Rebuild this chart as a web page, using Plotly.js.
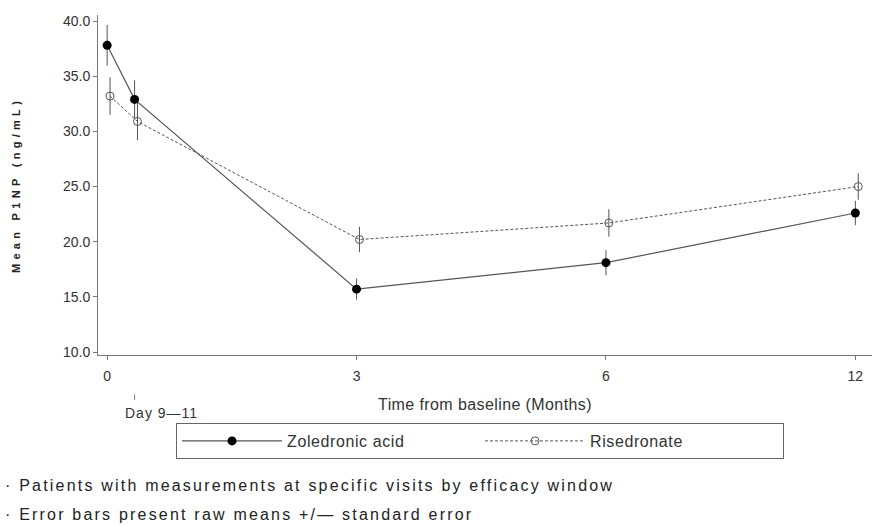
<!DOCTYPE html>
<html>
<head>
<meta charset="utf-8">
<script src="https://cdn.plot.ly/plotly-3.0.1.min.js"></script>
<style>html,body{margin:0;padding:0;background:#fff;}#chart{width:877px;height:526px;}</style>
</head>
<body>
<div id="chart"></div>
<script>
// Visit positions on the (compressed) time axis: 0, Day 9-11, 3, 6, 12 months
const visitPos = [0, 0.33, 3, 6, 9];
const tickPos = [0, 3, 6, 9];
const tickText = ['0', '3', '6', '12'];
const dayLabel = 'Day 9\u201411';
const dayPos = 0.33;

const zolMean = [37.8, 32.9, 15.7, 18.1, 22.6];
const zolSE   = [1.85, 1.75, 0.95, 1.15, 1.1];
const risMean = [33.2, 30.9, 20.2, 21.7, 25.0];
const risSE   = [1.7, 1.7, 1.15, 1.25, 1.2];
const risOffset = 0.035;

const grey = '#555';
const font = 'Liberation Sans, Arial, sans-serif';
const sp = (t, px) => '<span style="letter-spacing:' + px + 'px">' + t + '</span>';

const traces = [
  {
    x: visitPos, y: zolMean, name: sp('Zoledronic acid', 0.6), type: 'scatter', mode: 'lines+markers',
    line: {color: grey, width: 1.2},
    marker: {symbol: 'circle', size: 9, color: '#000'},
    error_y: {type: 'data', array: zolSE, visible: true, color: grey, thickness: 1, width: 0}
  },
  {
    x: visitPos.map(v => v + risOffset), y: risMean, name: sp('Risedronate', 0.6), type: 'scatter', mode: 'lines+markers',
    line: {color: grey, width: 1, dash: '3px,2px'},
    marker: {symbol: 'circle-open', size: 8, color: grey, line: {width: 1, color: grey}},
    error_y: {type: 'data', array: risSE, visible: true, color: grey, thickness: 1, width: 0}
  }
];

const layout = {
  width: 877, height: 526,
  margin: {l: 98, r: 5, t: 15, b: 171},
  paper_bgcolor: '#fff', plot_bgcolor: '#fff',
  font: {family: font, color: '#333', size: 14},
  showlegend: true,
  legend: {
    orientation: 'h', x: 0.1008, xanchor: 'left', y: -0.2, yanchor: 'top',
    bordercolor: '#666', borderwidth: 1, bgcolor: '#fff',
    itemwidth: 100, entrywidth: 188, font: {size: 16, family: font, color: '#333'}
  },
  xaxis: {
    range: [-0.11, 9.2], showgrid: false, zeroline: false,
    showline: true, linecolor: '#777', linewidth: 1,
    ticks: 'outside', ticklen: 4, tickcolor: '#777',
    tickvals: tickPos, ticktext: tickText, ticklabelstandoff: 4,
    tickfont: {size: 14, color: '#333'},
    title: {text: sp('Time from baseline (Months)', 0.4), font: {size: 16, color: '#333'}, standoff: 16}
  },
  yaxis: {
    range: [9.73, 40.55], showgrid: false, zeroline: false,
    showline: true, linecolor: '#777', linewidth: 1,
    ticks: 'outside', ticklen: 4, tickcolor: '#777',
    tick0: 10, dtick: 5, tickformat: '.1f',
    tickfont: {size: 14, color: '#333'},
    title: {text: sp('Mean P1NP (ng/mL)', 4.3), font: {size: 11, color: '#222', weight: 'bold'}, standoff: 40}
  },
  shapes: [
    {type: 'line', xref: 'x', yref: 'paper', x0: dayPos, x1: dayPos, y0: -0.116, y1: -0.132, line: {color: '#777', width: 1}}
  ],
  annotations: [
    {xref: 'x', yref: 'paper', x: dayPos, xanchor: 'left', xshift: -12, y: -0.17, yanchor: 'middle', text: sp(dayLabel, 1), showarrow: false, font: {size: 14, color: '#333'}},
    {xref: 'paper', yref: 'paper', x: -0.1227, xanchor: 'left', y: -0.385, yanchor: 'middle', text: sp('\u00b7 Patients with measurements at specific visits by efficacy window', 2.2), showarrow: false, font: {size: 16, color: '#222'}},
    {xref: 'paper', yref: 'paper', x: -0.1227, xanchor: 'left', y: -0.468, yanchor: 'middle', text: sp('\u00b7 Error bars present raw means +/\u2014 standard error', 2.2), showarrow: false, font: {size: 16, color: '#222'}}
  ]
};

Plotly.newPlot('chart', traces, layout, {displayModeBar: false, staticPlot: true});
</script>
</body>
</html>
